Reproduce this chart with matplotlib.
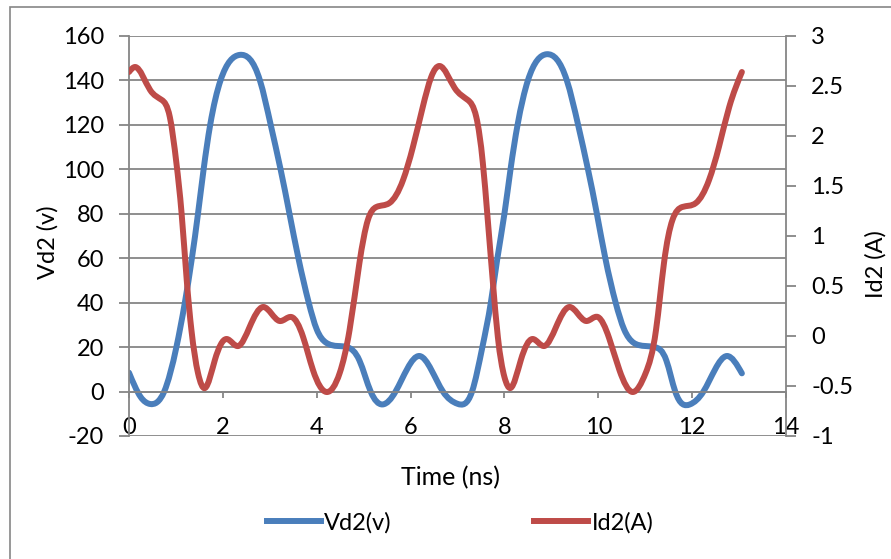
import numpy as np
import matplotlib
matplotlib.use("Agg")
import matplotlib.pyplot as plt
from matplotlib.path import Path
from matplotlib.patches import PathPatch, Rectangle
from matplotlib.lines import Line2D
from matplotlib.ticker import FormatStrFormatter

plt.rcParams['font.family'] = ['Lato', 'DejaVu Sans']
plt.rcParams['axes.unicode_minus'] = False

# Vd2 samples (time in ns, volts)
t_v = [0, 0.25, 0.45, 0.75, 1.01, 1.19, 1.34, 1.47, 1.59, 1.73, 1.95, 2.36, 2.79,
       3.02, 3.23, 3.42, 3.61, 3.83, 4.0, 4.2, 4.45, 4.65, 4.91, 5.15, 5.40, 5.68, 6.19, 6.69,
       7.0, 7.31, 7.53, 7.71, 7.85, 8.0, 8.13, 8.28, 8.50, 8.90, 9.33,
       9.57, 9.78, 9.97, 10.15, 10.37, 10.55, 10.75, 11.0, 11.2, 11.45, 11.64, 11.95,
       12.24, 12.74, 13.06]
vd2 = [8.5, -2.5, -5.6, 0, 20, 40, 60, 80, 100, 120, 140, 151.5, 140,
       120, 100, 80, 60, 40, 28, 22, 20.5, 20, 14, 0, -5.8, 0, 16, 0,
       -5.5, 0, 20, 40, 60, 80, 100, 120, 140, 151.8, 140,
       120, 100, 80, 60, 40, 28, 22, 20.5, 20, 14, 0, -5.8,
       0, 16, 8.2]

# Id2 samples (time in ns, amps)
t_i = [0, 0.13, 0.45, 0.70, 0.87, 1.01, 1.12, 1.23, 1.33, 1.47, 1.62, 1.83, 2.08, 2.33,
       2.57, 2.86, 3.21, 3.46, 3.71, 3.92, 4.21, 4.49, 4.70, 4.91, 5.09, 5.27, 5.55, 5.84,
       6.05, 6.26, 6.44, 6.62, 6.94, 7.22, 7.40, 7.54, 7.64, 7.75, 7.86, 8.0, 8.13, 8.35,
       8.60, 8.85, 9.10, 9.38, 9.74, 9.99, 10.23, 10.45, 10.73, 11.01, 11.23, 11.40,
       11.58, 11.79, 12.08, 12.36, 12.57, 12.79, 13.06]
id2 = [2.64, 2.69, 2.46, 2.36, 2.19, 1.73, 1.23, 0.56, 0.06, -0.37, -0.52, -0.24, -0.03, -0.10,
       0.09, 0.29, 0.15, 0.19, -0.01, -0.34, -0.56, -0.37, 0.06, 0.73, 1.16, 1.29, 1.33, 1.56,
       1.89, 2.29, 2.59, 2.70, 2.48, 2.36, 2.19, 1.73, 1.19, 0.56, -0.01, -0.41, -0.52, -0.24,
       -0.03, -0.10, 0.09, 0.29, 0.15, 0.19, -0.02, -0.34, -0.56, -0.37, 0.06, 0.73,
       1.16, 1.29, 1.33, 1.56, 1.89, 2.29, 2.64]

blue = '#4A7EBB'
red = '#BE4B48'
grey = '#868686'
fs = 17


def smooth_path(x, y):
    # natural cubic spline through every sample, drawn as bezier segments
    x = np.asarray(x, float)
    y = np.asarray(y, float)
    n = len(x)
    h = np.diff(x)
    d = np.diff(y) / h
    A = np.zeros((n, n))
    b = np.zeros(n)
    A[0, 0], A[0, 1], b[0] = 2, 1, 3 * d[0]
    A[-1, -2], A[-1, -1], b[-1] = 1, 2, 3 * d[-1]
    for k in range(1, n - 1):
        A[k, k - 1] = h[k]
        A[k, k] = 2 * (h[k - 1] + h[k])
        A[k, k + 1] = h[k - 1]
        b[k] = 3 * (h[k] * d[k - 1] + h[k - 1] * d[k])
    m = np.linalg.solve(A, b)
    verts = [(x[0], y[0])]
    codes = [Path.MOVETO]
    for k in range(n - 1):
        verts += [(x[k] + h[k] / 3, y[k] + m[k] * h[k] / 3),
                  (x[k + 1] - h[k] / 3, y[k + 1] - m[k + 1] * h[k] / 3),
                  (x[k + 1], y[k + 1])]
        codes += [Path.CURVE4] * 3
    return Path(verts, codes)


fig = plt.figure(figsize=(8.91, 5.59), dpi=100)
ax = fig.add_axes([129 / 891, 1 - 436 / 559, 657 / 891, 400 / 559])
ax.patch.set_alpha(0)

ax.set_xlim(0, 14)
ax.set_ylim(-20, 160)
ax.set_xticks(np.arange(0, 15, 2))
ax.set_yticks(np.arange(-20, 161, 20))
ax.yaxis.grid(True, color=grey, lw=1.3)
ax.set_axisbelow(True)
for s in ['top', 'right']:
    ax.spines[s].set_visible(False)
ax.spines['bottom'].set_position(('data', 0))
for s in ['left', 'bottom']:
    ax.spines[s].set_color(grey)
    ax.spines[s].set_linewidth(1.3)
ax.tick_params(axis='y', direction='out', length=7, width=1.3, color=grey, pad=11, labelsize=fs)
ax.tick_params(axis='x', direction='out', length=4, width=1.3, color=grey, pad=14, labelsize=fs)

ax.add_patch(PathPatch(smooth_path(t_v, vd2), fill=False, edgecolor=blue, lw=4.3,
                       capstyle='round', joinstyle='round'))

ax2 = ax.twinx()
ax2.set_ylim(-1, 3)
ax2.set_yticks(np.arange(-1, 3.01, 0.5))
ax2.yaxis.set_major_formatter(FormatStrFormatter('%g'))
for s in ['top', 'left', 'bottom']:
    ax2.spines[s].set_visible(False)
ax2.spines['right'].set_color(grey)
ax2.spines['right'].set_linewidth(1.3)
ax2.tick_params(axis='y', direction='out', length=7, width=1.3, color=grey, pad=11, labelsize=fs)
ax2.add_patch(PathPatch(smooth_path(t_i, id2), fill=False, edgecolor=red, lw=4.3,
                        capstyle='round', joinstyle='round'))

fig.text(48 / 891, 1 - 242 / 559, 'Vd2 (v)', rotation=90, ha='center', va='center', fontsize=fs)
fig.text(876 / 891, 1 - 264 / 559, 'Id2 (A)', rotation=90, ha='center', va='center', fontsize=fs)
fig.text(450 / 891, 1 - 478 / 559, 'Time (ns)', ha='center', va='center', fontsize=18)

handles = [Line2D([], [], color=blue, lw=4.3), Line2D([], [], color=red, lw=4.3)]
fig.legend(handles, ['Vd2(v)', 'Id2(A)'], loc='center', bbox_to_anchor=(460 / 891, 1 - 523 / 559),
           ncol=2, frameon=False, fontsize=fs, handlelength=2.3, handletextpad=0.15,
           columnspacing=6.0)

# chart-area border
fig.patches.append(Rectangle((10 / 891, -0.1), 1.2, 1.1 - 7.5 / 559, transform=fig.transFigure,
                             fill=False, edgecolor=grey, lw=1.2))

fig.savefig('out.png', dpi=100)
